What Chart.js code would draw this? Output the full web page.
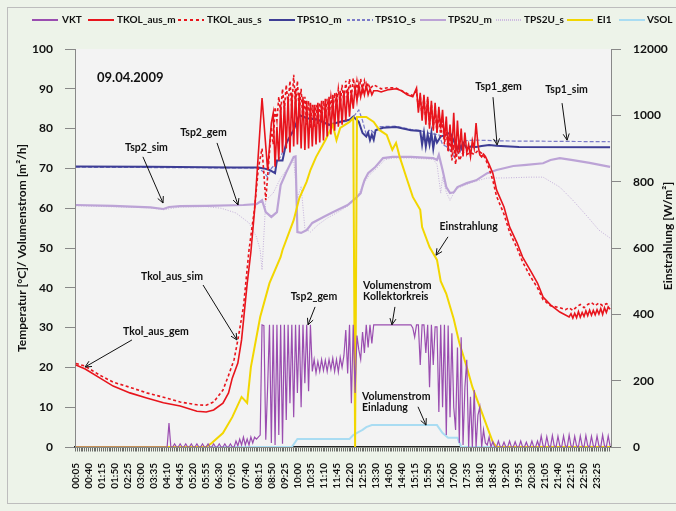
<!DOCTYPE html>
<html><head><meta charset="utf-8">
<script src="https://cdn.jsdelivr.net/npm/chart.js@4/dist/chart.umd.min.js"></script>
<style>html,body{margin:0;padding:0;background:#EDF3E9;}canvas{display:block;}</style>
</head><body>
<canvas id="c" width="676" height="511"></canvas>
<script>
// x index i = 5-minute sample, time = 5*(i+1) minutes (00:05 ... 24:00)
const tickLabels = ['00:05','00:40','01:15','01:50','02:25','03:00','03:35','04:10','04:45','05:20','05:55','06:30','07:05','07:40','08:15','08:50','09:25','10:00','10:35','11:10','11:45','12:20','12:55','13:30','14:05','14:40','15:15','15:50','16:25','17:00','17:35','18:10','18:45','19:20','19:55','20:30','21:05','21:40','22:15','22:50','23:25'];

// VKT (Volumenstrom Kollektorkreis) every sample, 12 per hour
const vkt = [
0,0,0,0,0,0,0,0,0,0,0,0,
0,0,0,0,0,0,0,0,0,0,0,0,
0,0,0,0,0,0,0,0,0,0,0,0,
0,0,0,0,0,0,0,0,0,0,0,0,
0,0,6,0,0,0.8,0,0,0.8,0,0,0.8,
0,0,0.8,0,0,0.8,0,0,0.8,0,0,0.8,
0,0,0.8,0,0,0.8,0,0,0.8,0,0,0.8,
0,0,1.5,0.3,2,0.5,2.5,0.5,2,0.5,2.5,1,
2.5,2,2.5,3,30.7,30.5,1.8,15,30.7,1,30.7,0.5,
30.7,3,30.7,0.8,30.7,6.8,30.7,11,30.7,7.5,30.7,13.6,
30.7,10,30.7,16,30.7,14,30.7,19,22,18.6,21.5,19,
22,19.2,21.8,19,22,19.5,22.3,19,22,18.8,22.5,20,
23,29.4,18.5,30.7,11,30.7,13.6,28,24.4,22,28.9,23.6,
30.7,25,30.7,26,30.7,30.7,30.7,30.7,30.7,30.7,30.7,30.7,
30.7,30.7,30.7,30.7,30.7,30.7,30.7,30.7,30.7,30.7,30.7,30.7,
30.7,29.9,27.6,30.7,30.7,20.6,30.7,30.7,23.6,30.7,15,30.7,
20.6,30.2,30.2,8.8,30.7,10,30.7,3,30.5,7.5,28.6,10,
4.3,25,1,27.6,0.5,15,21.9,0,12.6,0,14.3,0,
8,10,0,4.3,1,0.5,2.5,0,1.3,0,0,1.5,
0,0,1.2,0,0,1.5,0,0,1.3,0,0,1.5,
0,0,1.2,0,0,1.5,0,0,1.5,0,2.8,0.3,
0,2.6,0.3,0,2.9,0.3,0,2.7,0.3,0,2.8,0.3,
0,3,0.3,0,2.7,0.3,0,2.8,0.3,0,2.9,0.3,
0,2.7,0.3,0,2.8,0.3,0,3,0.3,0,2.8,0.3
];

// [sample index, value] readings
const tkolM = [[0,20.6],[5,19.6],[13,17.3],[20,15.3],[29,13.6],[38,12.3],[47,11.1],[56,10.3],[65,9.0],[70,8.8],[74,9.3],[79,11],[82,13.6],[84,17.3],[87,21.1],[89,26.9],[92,41],[94,49],[96,59.5],[100,87.7],[103,69.6],[105,81.4],[106,83.9],[107,70.4],[108,80.4],[109,72],[110,86],[111,74],[112,87],[113,75],[114,88],[115,74],[116,89],[117,75.5],[118,90],[119,76],[120,89],[121,75],[122,88],[123,74.6],[124,87],[125,75],[126,86.5],[127,75.5],[128,86],[129,76],[130,86.5],[131,76.5],[132,87],[133,77],[134,87.5],[135,78],[136,88],[137,78.5],[138,88.5],[139,79.5],[140,89],[141,80.5],[142,89.5],[143,81],[144,89.5],[145,82],[146,90],[147,83],[148,89.5],[149,85],[150,90.5],[151,87],[152,91],[153,88],[154,90.5],[155,88.5],[156,91],[157,88.5],[158,90],[159,88.5],[160,89.5],[162,89.5],[164,89.2],[168,89.8],[172,90],[175,89.5],[178,88.5],[181,88],[183,90.2],[184,84],[185,89],[186,82],[187,88.5],[188,81],[189,88],[190,80],[191,87],[192,79.5],[193,86.5],[194,79],[195,85.5],[196,80],[197,84.7],[198,77],[199,83],[200,74.6],[201,81],[202,74],[203,84],[204,73],[205,82],[206,74],[207,80],[208,73],[209,79],[210,74],[211,76],[212,73],[213,77],[214,75],[215,81.4],[216,76],[217,73.4],[218,72.9],[219,73.6],[220,73],[221,72],[222,71],[224,68.8],[226,64.6],[230,60.3],[233,55.3],[237,51.3],[240,47.7],[244,44.5],[248,41.2],[251,37.7],[255,35.7],[260,33.9],[265,32.7],[266,33.5],[267,32.4],[268,33.6],[269,32.5],[270,34],[271,32.6],[272,33.8],[273,32.8],[274,34.2],[275,33],[276,34.4],[277,33.1],[278,34.3],[279,33.2],[280,34.5],[281,33.4],[282,34.8],[283,33.3],[284,35],[285,33.8],[286,35.2],[287,34.6]];

const tkolS = [[0,21],[5,20.3],[13,18],[20,16.3],[29,15],[38,13.6],[47,12.5],[56,11.3],[65,10.6],[70,10.5],[74,11.3],[79,14.3],[82,18],[85,22],[87,26.9],[90,35.2],[93,49.5],[96,60],[98,70],[100,75],[102,62],[104,74],[105,80.4],[106,76],[107,85.4],[108,82],[109,88],[110,84],[111,90],[112,85],[113,91],[114,86],[115,92],[116,85],[117,93.5],[118,86],[119,92],[120,84],[121,90],[122,82],[123,88],[124,81],[125,87],[126,80],[127,86],[128,80.5],[129,86],[130,81],[131,86.5],[132,82],[133,87],[134,82.5],[135,87.5],[136,83],[137,88],[138,84],[139,89],[140,85],[141,90],[142,86],[143,91],[144,86.5],[145,92],[146,87],[147,92.5],[148,88],[149,92.7],[150,88.5],[151,92],[152,89],[153,92.5],[154,89.5],[155,92],[156,90],[157,91.5],[158,90],[160,91],[164,90],[168,90.3],[172,90.2],[175,89.5],[178,88.8],[181,88.3],[183,89.5],[184,85],[185,88],[186,83],[187,88],[188,82],[189,87.5],[190,81],[191,86],[192,80],[193,85],[194,79],[195,84],[196,78],[197,82],[198,76],[199,80],[200,74],[201,78],[202,72],[203,76],[204,71],[205,75],[206,72],[208,74],[210,73.5],[212,74],[214,73.5],[216,74.5],[218,73.8],[220,72.5],[222,70],[224,67],[226,63],[230,58.5],[233,54],[237,50],[240,46.5],[244,43],[248,40],[251,37],[255,35.5],[260,35],[263,34.5],[265,35],[267,34.3],[269,35.2],[271,35.8],[273,35],[275,35.8],[277,36.3],[279,35.5],[281,36.2],[283,35.5],[285,36],[287,35.6]];

const tps1m = [[0,70.5],[40,70.4],[85,70.2],[98,70.2],[101,70],[104,69.6],[107,68.8],[108,72],[111,72],[113,76.4],[117,79.6],[120,83.4],[124,82.6],[130,82.2],[136,80.9],[142,81.7],[147,82.2],[149,83],[152,81.7],[154,78.9],[156,78],[157,79],[158,77.1],[159,78.5],[160,77.2],[161,79.6],[165,80.2],[172,80.4],[180,79.6],[185,79.4],[186,76],[187,79],[188,75.5],[189,78.5],[190,76],[191,79],[192,75],[193,78],[194,76.5],[196,78],[199,78.5],[201,79],[203,77],[205,74.6],[206,76],[207,75],[208,76.5],[210,75],[212,75.5],[215,75.4],[218,75.6],[222,75.9],[226,75.7],[238,75.4],[287,75.3]];

const tps1s = [[0,70.3],[98,70.1],[101,69],[103,67.8],[105,70],[107,71],[110,73],[113,76],[117,80],[120,83.5],[124,82.8],[130,82.5],[136,81.2],[142,81.5],[147,82],[150,83.5],[152,84.7],[154,82],[156,78.5],[158,79.8],[160,79],[163,80.5],[172,80.6],[180,79.8],[185,79.5],[190,78.8],[195,78.5],[197,76],[199,75.5],[201,74.5],[203,73],[204,75.5],[206,73.5],[208,76.5],[210,77],[215,77.1],[230,76.9],[287,76.7]];

const tps2m = [[0,60.8],[20,60.6],[40,60.2],[47,59.8],[50,60.3],[56,60.5],[70,60.6],[90,60.8],[97,61],[100,62],[102,59],[105,57.8],[108,59],[110,65.8],[113,69],[117,72.9],[118,73],[119,54],[121,53.8],[124,54.5],[127,56.3],[133,57.8],[138,59],[146,60.8],[151,62.8],[153,63.8],[154,65.5],[155,67],[157,68.8],[161,70.4],[165,72.6],[170,72.9],[180,72.9],[192,72.6],[194,72.1],[195,73.4],[197,69.6],[199,65.3],[201,63.8],[203,64],[205,65.3],[210,66.3],[215,67],[221,68.8],[226,69.6],[235,70.6],[242,70.9],[251,71.3],[255,72.1],[260,72.6],[267,72.1],[276,71.4],[287,70.4]];

const tps2s = [[0,60.6],[40,60.1],[47,59.6],[56,60.3],[70,60.4],[78,60],[86,58.8],[93,56.3],[97,52.8],[99,49.5],[100,44.5],[102,62],[106,63.8],[110,67.6],[113,69.5],[117,72],[119,62.5],[121,65.5],[123,55],[126,54],[130,55.8],[135,57.5],[140,58.8],[146,60.5],[151,62.5],[155,66.5],[158,68.5],[162,70.2],[166,72.2],[170,72.6],[180,72.6],[192,72.3],[194,71],[196,63.8],[197,67.8],[199,64],[201,62],[203,63.8],[205,65],[210,66],[215,66.8],[221,67.6],[230,67.6],[244,67.8],[251,67.8],[260,65.3],[267,62],[275,57.8],[281,54.5],[287,52.5]];

// Einstrahlung W/m2 (right axis)
const ei1 = [[0,0],[70,0],[73,12],[79,42],[84,90],[89,151],[92,133],[94,241],[99,392],[104,494],[110,573],[111,594],[117,684],[120,750],[124,800],[126,835],[129,874],[134,925],[138,971],[140,925],[142,962],[147,980],[149,992],[150,0],[151,995],[156,995],[160,980],[163,956],[167,941],[170,896],[172,917],[174,874],[178,805],[181,754],[185,715],[186,663],[190,603],[194,564],[196,500],[199,462],[203,386],[206,314],[210,241],[213,181],[217,121],[221,60],[224,15],[226,0],[287,0]];

const vsol = [[0,0],[116,0],[119,2],[147,2],[149,3],[152,3.8],[154,4.3],[156,5],[159,5.5],[194,5.5],[197,3.5],[200,2.3],[205,2.3],[207,0],[287,0]];

const toXY = a => a.map(p => ({x: p[0], y: p[1]}));

const FONT = 'Lato';
const legendItems = [
  {t:'VKT', c:'#9A4DB0', d:[], lx:32, tx:62},
  {t:'TKOL_aus_m', c:'#E8141C', d:[], lx:88, tx:117},
  {t:'TKOL_aus_s', c:'#E8141C', d:[3,3], lx:178, tx:207},
  {t:'TPS1O_m', c:'#3D3D95', d:[], lx:269, tx:297},
  {t:'TPS1O_s', c:'#7A7AC8', d:[3,2], lx:347, tx:375},
  {t:'TPS2U_m', c:'#BCA3D6', d:[], lx:420, tx:448},
  {t:'TPS2U_s', c:'#CDBBE0', d:[1,1], lx:496, tx:524},
  {t:'EI1', c:'#F2D600', d:[], lx:567, tx:597},
  {t:'VSOL', c:'#A9DCF2', d:[], lx:619, tx:647}
];

const notes = [
 {t:['Tsp2_sim'], x:37.9, y:75.1, al:'center', a:[36,72.9,46.8,61.3]},
 {t:['Tsp2_gem'], x:68.5, y:79.1, al:'center', a:[75.8,76.4,87.1,60.8]},
 {t:['Tsp1_gem'], x:227.1, y:90.5, al:'center', a:[224.1,87.9,226.3,75.9]},
 {t:['Tsp1_sim'], x:263.6, y:89.7, al:'center', a:[261.2,86.4,263.9,77.1]},
 {t:['Einstrahlung'], x:211, y:55.3, al:'center', a:[199.9,52.8,193.5,48.2]},
 {t:['Tkol_aus_sim'], x:51.6, y:42.7, al:'center', a:[68.3,40.7,86.5,26.9]},
 {t:['Tkol_aus_gem'], x:43, y:29.1, al:'center', a:[30.1,26.9,4.9,20.1]},
 {t:['Tsp2_gem'], x:127.9, y:37.7, al:'center', a:[128.5,35.2,124.7,30.7]},
 {t:['Volumenstrom','Kollektorkreis'], x:154.3, y:40.5, al:'left', a:[171.4,35.2,169.8,30.7]},
 {t:['Volumenstrom','Einladung'], x:153.7, y:12.6, al:'left', a:[183.8,10.1,188.1,5.5]}
];

function arrow(ctx, x1, y1, x2, y2) {
  ctx.beginPath(); ctx.moveTo(x1, y1); ctx.lineTo(x2, y2); ctx.stroke();
  const ang = Math.atan2(y2 - y1, x2 - x1), L = 7, w = 0.45;
  ctx.beginPath();
  ctx.moveTo(x2 - L * Math.cos(ang - w), y2 - L * Math.sin(ang - w));
  ctx.lineTo(x2, y2);
  ctx.lineTo(x2 - L * Math.cos(ang + w), y2 - L * Math.sin(ang + w));
  ctx.stroke();
}

const decor = {
  id: 'decor',
  beforeDraw(chart) {
    const {ctx, chartArea: a} = chart;
    ctx.save();
    ctx.fillStyle = '#EDF3E9'; ctx.fillRect(0, 0, chart.width, chart.height);
    ctx.strokeStyle = '#BDBDBD'; ctx.lineWidth = 1;
    ctx.strokeRect(7.5, 7.5, 720, 496);
    ctx.fillStyle = '#F3F3F3'; ctx.fillRect(a.left, a.top, a.right - a.left, a.bottom - a.top);
    ctx.restore();
  },
  afterDraw(chart) {
    const {ctx, chartArea: a, scales} = chart;
    const X = v => scales.x.getPixelForValue(v), Y = v => scales.y.getPixelForValue(v);
    ctx.save();
    // minor category tick marks (one per 5-minute sample)
    ctx.strokeStyle = '#333'; ctx.lineWidth = 0.7;
    ctx.beginPath();
    vkt.forEach((v, i) => { const px = Math.round(X(i - 0.5)) + 0.5; ctx.moveTo(px, a.bottom + 1); ctx.lineTo(px, a.bottom + 4.5); });
    ctx.stroke();
    // legend
    ctx.font = 'bold 10px ' + FONT; ctx.textBaseline = 'middle'; ctx.textAlign = 'left';
    const ly = 20;
    legendItems.forEach(it => {
      ctx.strokeStyle = it.c; ctx.lineWidth = 2; ctx.setLineDash(it.d);
      ctx.beginPath(); ctx.moveTo(it.lx, ly); ctx.lineTo(it.lx + 26, ly); ctx.stroke();
      ctx.setLineDash([]);
      ctx.fillStyle = '#111'; ctx.fillText(it.t, it.tx, ly);
    });
    // date
    ctx.font = 'bold 13px ' + FONT; ctx.fillStyle = '#111';
    ctx.fillText('09.04.2009', X(11.3), Y(92.7));
    // annotations
    ctx.font = 'bold 10.5px ' + FONT; ctx.strokeStyle = '#111'; ctx.lineWidth = 1;
    notes.forEach(n => {
      ctx.textAlign = n.al;
      n.t.forEach((s, k) => ctx.fillText(s, X(n.x), Y(n.y) + k * 11));
      arrow(ctx, X(n.a[0]), Y(n.a[1]), X(n.a[2]), Y(n.a[3]));
    });
    // right axis title
    ctx.font = 'bold 12px ' + FONT; ctx.textAlign = 'center';
    ctx.translate(a.right + 57, (a.top + a.bottom) / 2 - 12);
    ctx.rotate(-Math.PI / 2);
    ctx.fillText('Einstrahlung [W/m²]', 0, 0);
    ctx.restore();
  }
};

const tickFont = {family: FONT, weight: 'bold', size: 12};
new Chart(document.getElementById('c'), {
  type: 'line',
  data: {
    datasets: [
      {label:'TKOL_aus_m', data: toXY(tkolM), borderColor:'#E8141C', borderWidth:1.6, order:1},
      {label:'TKOL_aus_s', data: toXY(tkolS), borderColor:'#E8141C', borderWidth:1.6, borderDash:[3,2.5], order:2},
      {label:'VKT', data: vkt.map((v, i) => ({x: i, y: v})), borderColor:'#9A4DB0', borderWidth:1.2, order:3},
      {label:'EI1', data: toXY(ei1), yAxisID:'y2', borderColor:'#F2D600', borderWidth:2, order:4},
      {label:'TPS1O_m', data: toXY(tps1m), borderColor:'#3D3D95', borderWidth:2, order:5},
      {label:'TPS1O_s', data: toXY(tps1s), borderColor:'#7A7AC8', borderWidth:1.2, borderDash:[4,2], order:6},
      {label:'TPS2U_m', data: toXY(tps2m), borderColor:'#BCA3D6', borderWidth:2.2, order:7},
      {label:'TPS2U_s', data: toXY(tps2s), borderColor:'#C4B0DA', borderWidth:1, borderDash:[1,1.5], order:8},
      {label:'VSOL', data: toXY(vsol), borderColor:'#A9DCF2', borderWidth:2, order:9}
    ]
  },
  options: {
    responsive: false, animation: false, devicePixelRatio: 1, events: [],
    elements: {point: {radius: 0}, line: {tension: 0, fill: false}},
    layout: {padding: {top: 49, left: 0, right: 0, bottom: 0}},
    plugins: {legend: {display: false}, tooltip: {enabled: false}},
    scales: {
      x: {
        type: 'linear', min: -0.5, max: 287.5,
        afterBuildTicks: s => { s.ticks = tickLabels.map((t, k) => ({value: 7 * k})); },
        afterFit: s => { s.height = 64; },
        ticks: {autoSkip: false, maxRotation: 90, minRotation: 90, padding: 8, color: '#111',
          font: {family: FONT, weight: 'bold', size: 10},
          callback: (v, i) => tickLabels[i]},
        grid: {display: false, drawOnChartArea: false},
        border: {display: true, color: '#222', width: 1.5}
      },
      y: {
        position: 'left', min: 0, max: 100,
        afterFit: s => { s.width = 75; },
        ticks: {stepSize: 10, padding: 12, color: '#111', font: tickFont},
        grid: {drawOnChartArea: false, tickLength: 10, color: '#888'},
        border: {color: '#888', width: 1},
        title: {display: true, text: 'Temperatur [°C]/ Volumenstrom [m²/h]', color: '#111',
          font: {family: FONT, weight: 'bold', size: 12}, padding: {top: 15, bottom: 0}}
      },
      y2: {
        position: 'right', min: 0, max: 1200,
        afterFit: s => { s.width = 65; },
        ticks: {stepSize: 200, padding: 12, color: '#111', font: tickFont,
          callback: v => (v === 1200 ? '12000' : String(v))},
        grid: {drawOnChartArea: false, tickLength: 10, color: '#888'},
        border: {color: '#888', width: 1}
      }
    }
  },
  plugins: [decor]
});
</script>
</body></html>
